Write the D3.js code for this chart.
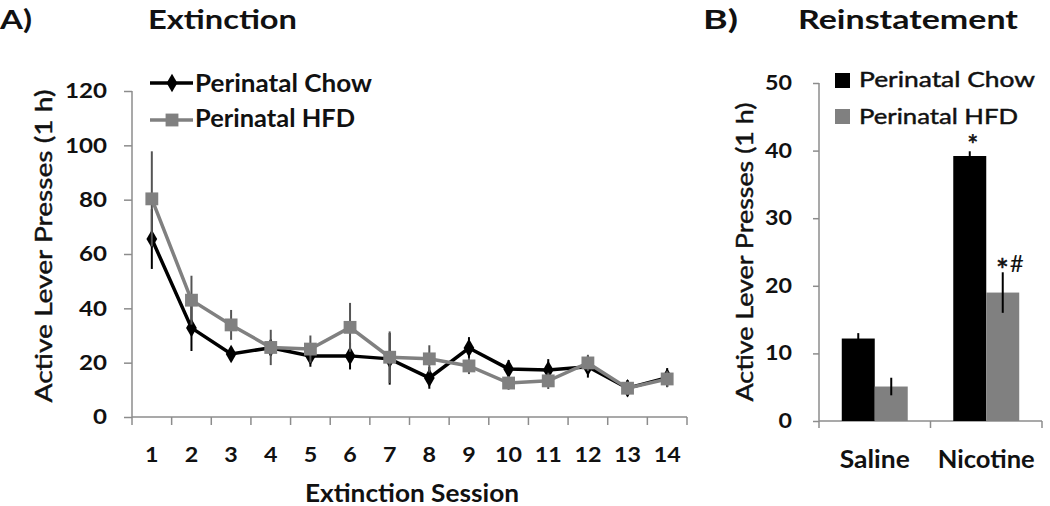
<!DOCTYPE html>
<html><head><meta charset="utf-8">
<script src="https://cdn.jsdelivr.net/npm/d3@7"></script>
<style>body{margin:0;background:#fff}svg{display:block}</style>
</head><body>
<svg id="c" width="1050" height="506" font-family="Lato, 'Open Sans', sans-serif" font-weight="bold" fill="#111"></svg>
<script>
// ---- Panel A data (Extinction) ----
const sessions = [1,2,3,4,5,6,7,8,9,10,11,12,13,14];
const chowMean = [65.5,32.8,23.2,25.5,22.5,22.5,21.4,14.4,25.4,17.7,17.3,18.5,10.6,14.5];
const chowErr  = [11,8.5,2.5,3,4,5,9.5,4,4,3.3,4,4,3,3.5];
const hfdMean  = [80.3,43,33.9,25.6,25,33,22,21.4,18.8,12.5,13.3,19.9,10.6,14];
const hfdErr   = [17.5,9,5.5,6.5,5,9,9.5,5,3,2.5,3,3,2.5,3];
const yTicksA  = [0,20,40,60,80,100,120];
// ---- Panel B data (Reinstatement) ----
const groupsB  = ["Saline","Nicotine"];
const seriesB  = ["Perinatal Chow","Perinatal HFD"];
const chowB    = [12.2,39.2];
const chowBErr = [0.8,0.7];
const hfdB     = [5.1,19];
const hfdBErr  = [1.3,3];
const yTicksB  = [0,10,20,30,40,50];
const sigLabels = [["",""],["*","*#"]];

const BLACK="#000", GRAY="#808080", AXIS="#8c8c8c";
const svg=d3.select("#c");
const DIGIT_W=14;

function styleAxis(a,fs){
  a.attr("font-family",null).attr("font-size",null);
  a.select(".domain").attr("stroke",AXIS).attr("stroke-width",1.5);
  a.selectAll(".tick line").attr("stroke",AXIS).attr("stroke-width",1.5);
  a.selectAll("text").attr("font-size",fs).attr("font-family","Lato").attr("font-weight","bold").attr("fill","#111");
}
function txt(g,x,y,s,fs,len,opt={}){
  const t=g.append("text").attr("x",x).attr("y",y).attr("font-size",fs).attr("fill","#111").text(s);
  if(len) t.attr("textLength",len).attr("lengthAdjust","spacingAndGlyphs");
  t.attr("font-weight",opt.weight||"bold");
  if(opt.weight==="normal") t.attr("stroke","#111").attr("stroke-width",0.45);
  if(opt.anchor) t.attr("text-anchor",opt.anchor);
  return t;
}

// ===== Panel A =====
const xA=d3.scaleBand().domain(sessions).range([132,687]);
const yA=d3.scaleLinear().domain([0,120]).range([417,91]);
const gA=svg.append("g");
const yAxA=gA.append("g").attr("transform","translate(132,0)").call(d3.axisLeft(yA).tickValues(yTicksA).tickSize(8).tickPadding(17));
const xAxA=gA.append("g").attr("transform","translate(0,417)").call(d3.axisBottom(xA).tickSize(0).tickPadding(30));
styleAxis(yAxA,21); styleAxis(xAxA,21);
yAxA.selectAll("text").attr("textLength",d=>String(d).length*DIGIT_W).attr("lengthAdjust","spacingAndGlyphs");
xAxA.selectAll("text").attr("textLength",d=>String(d).length*13.5).attr("lengthAdjust","spacingAndGlyphs");
xAxA.select(".domain").attr("d","M132,0H687");
yAxA.select(".domain").attr("d","M0,417V91");
gA.append("g").selectAll("line").data(d3.range(sessions.length+1)).join("line")
  .attr("x1",i=>132+i*xA.step()).attr("x2",i=>132+i*xA.step()).attr("y1",417).attr("y2",425)
  .attr("stroke",AXIS).attr("stroke-width",1.5);

const cx=d=>xA(d)+xA.bandwidth()/2;
const sym=s=>d3.symbol().type(s==="sq"?d3.symbolSquare:d3.symbolDiamond).size(s==="sq"?165:100);
function series(mean,err,col,errCol,shape){
  const g=gA.append("g");
  g.selectAll("line.e").data(sessions).join("line").attr("class","e")
    .attr("x1",d=>cx(d)).attr("x2",d=>cx(d))
    .attr("y1",(d,i)=>yA(mean[i]-err[i])).attr("y2",(d,i)=>yA(mean[i]+err[i]))
    .attr("stroke",errCol).attr("stroke-width",2);
  g.append("path").datum(sessions).attr("fill","none").attr("stroke",col).attr("stroke-width",3.5)
    .attr("d",d3.line().x(d=>cx(d)).y((d,i)=>yA(mean[i])));
  g.selectAll("path.m").data(sessions).join("path").attr("class","m")
    .attr("transform",(d,i)=>`translate(${cx(d)},${yA(mean[i])})`)
    .attr("d",sym(shape)).attr("fill",col);
}
series(chowMean,chowErr,BLACK,BLACK,"dia");
series(hfdMean,hfdErr,GRAY,"#555","sq");

// legend A
[["Perinatal Chow",BLACK,"dia",83,92,177],["Perinatal HFD",GRAY,"sq",120,127,160]].forEach(([t,c,s,ly,by,len])=>{
  gA.append("line").attr("x1",150).attr("x2",193).attr("y1",ly).attr("y2",ly).attr("stroke",c).attr("stroke-width",3.5);
  gA.append("path").attr("transform",`translate(172,${ly})`).attr("d",sym(s)).attr("fill",c);
  txt(gA,195,by,t,25,len);
});
// titles & axis titles A
txt(svg,0,29,"A)",26,32);
txt(svg,148,29,"Extinction",26,149);
gA.append("text").attr("transform","translate(52,246) rotate(-90)").attr("text-anchor","middle").attr("fill","#111")
  .attr("stroke","#111").attr("stroke-width",0.45)
  .attr("font-size",23).attr("font-weight","normal").attr("textLength",313).attr("lengthAdjust","spacingAndGlyphs")
  .text("Active Lever Presses (1 h)");
txt(gA,305,502,"Extinction Session",25,214);

// ===== Panel B =====
const xB=d3.scaleBand().domain(groupsB).range([819,1042]);
const xInner=d3.scaleBand().domain(seriesB).range([0,xB.bandwidth()]).paddingInner(0).paddingOuter(0.69);
const yB=d3.scaleLinear().domain([0,50]).range([421,83]);
const gB=svg.append("g");
const yAxB=gB.append("g").attr("transform","translate(819,0)").call(d3.axisLeft(yB).tickValues(yTicksB).tickSize(6).tickPadding(21));
const xAxB=gB.append("g").attr("transform","translate(0,421)").call(d3.axisBottom(xB).tickSize(0).tickPadding(29));
styleAxis(yAxB,20); styleAxis(xAxB,25);
yAxB.selectAll("text").attr("textLength",d=>String(d).length*13.5).attr("lengthAdjust","spacingAndGlyphs");
const xLabLen={"Saline":70,"Nicotine":97};
xAxB.selectAll("text").attr("textLength",d=>xLabLen[d]).attr("lengthAdjust","spacingAndGlyphs");
yAxB.select(".domain").attr("d","M0,421V83");
xAxB.select(".domain").attr("d","M819,0H1042");
gB.selectAll("line.xt").data(d3.range(groupsB.length+1)).join("line").attr("class","xt")
  .attr("x1",i=>819+i*xB.step()).attr("x2",i=>819+i*xB.step()).attr("y1",421).attr("y2",428)
  .attr("stroke",AXIS).attr("stroke-width",1.5);

[[chowB,chowBErr,BLACK],[hfdB,hfdBErr,GRAY]].forEach(([vals,errs,col],si)=>{
  const s=seriesB[si];
  const bx=g=>xB(g)+xInner(s);
  gB.selectAll(null).data(groupsB).join("rect")
    .attr("x",bx).attr("width",xInner.bandwidth())
    .attr("y",(g,i)=>yB(vals[i])).attr("height",(g,i)=>yB(0)-yB(vals[i])).attr("fill",col);
  gB.selectAll(null).data(groupsB).join("line")
    .attr("x1",g=>bx(g)+xInner.bandwidth()/2).attr("x2",g=>bx(g)+xInner.bandwidth()/2)
    .attr("y1",(g,i)=>yB(vals[i]-errs[i])).attr("y2",(g,i)=>yB(vals[i]+errs[i])).attr("stroke",BLACK).attr("stroke-width",2);
  // significance markers: large asterisk, smaller hash
  const starSize=si?30:26;
  const lab=gB.selectAll(null).data(groupsB).join("text")
    .attr("x",g=>bx(g)+xInner.bandwidth()/2+(si?7:3)).attr("y",(g,i)=>yB(vals[i]+errs[i])+(si?0:-4))
    .attr("text-anchor","middle").attr("font-weight","normal").attr("fill","#111");
  lab.each(function(g,i){
    const el=d3.select(this);
    let shifted=false;
    [...sigLabels[i][si]].forEach(ch=>{
      const sp=el.append("tspan").text(ch);
      if(ch==="*"){sp.attr("font-size",starSize).attr("dy",shifted?0:(si?9:8)).attr("stroke","#111").attr("stroke-width",0.6);shifted=true;}
      else{sp.attr("font-size",24).attr("dy",shifted?-9:0).attr("dx",1);shifted=false;}
    });
  });
});
// legend B
seriesB.forEach((t,i)=>{
  const top=[73,109][i], base=[87,124][i], len=[176,159][i];
  gB.append("rect").attr("x",835).attr("y",top).attr("width",15).attr("height",15).attr("fill",[BLACK,GRAY][i]);
  txt(gB,859,base,t,21,len,{weight:"normal"});
});
txt(svg,703,29,"B)",26,35);
txt(svg,798,29,"Reinstatement",27,220);
gB.append("text").attr("transform","translate(753,252) rotate(-90)").attr("text-anchor","middle").attr("fill","#111")
  .attr("stroke","#111").attr("stroke-width",0.45)
  .attr("font-size",23).attr("font-weight","normal").attr("textLength",299).attr("lengthAdjust","spacingAndGlyphs")
  .text("Active Lever Presses (1 h)");
</script>
</body></html>
